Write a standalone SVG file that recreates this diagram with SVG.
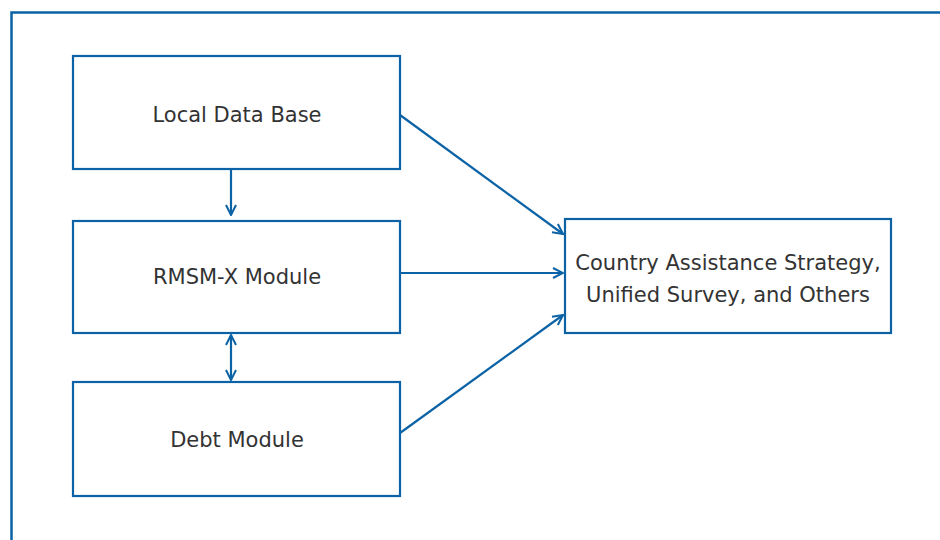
<svg xmlns="http://www.w3.org/2000/svg" width="940" height="540" viewBox="0 0 940 540">
<defs>
<style>
.box{fill:#fff;stroke:#0b63a6;stroke-width:2.2}
.frame{fill:none;stroke:#0b63a6;stroke-width:2.5}
.con{fill:none;stroke:#0b63a6;stroke-width:2.2}
.t{font-family:"DejaVu Sans","Liberation Sans",sans-serif;font-size:21px;fill:#333;text-anchor:middle}
</style>
<marker id="ah" viewBox="0 0 12 12" refX="11" refY="6" markerWidth="12" markerHeight="12" markerUnits="userSpaceOnUse" orient="auto-start-reverse">
<path d="M1,1 L11,6 L1,11" fill="none" stroke="#0b63a6" stroke-width="2"/>
</marker>
</defs>
<rect width="940" height="540" fill="#fff"/>
<path class="frame" d="M11.5,540 V12.5 H940"/>
<g id="local"><rect class="box" x="73" y="56" width="327" height="113"/><text class="t" x="237" y="122">Local Data Base</text></g>
<g id="rmsm"><rect class="box" x="73" y="221" width="327" height="112"/><text class="t" x="237" y="284">RMSM-X Module</text></g>
<g id="debt"><rect class="box" x="73" y="382" width="327" height="114"/><text class="t" x="237" y="447">Debt Module</text></g>
<g id="cas"><rect class="box" x="565" y="219" width="326" height="114"/><text class="t" x="728" y="270">Country Assistance Strategy,</text><text class="t" x="728" y="302">Unified Survey, and Others</text></g>
<g id="connectors">
<line class="con" x1="231" y1="169" x2="231" y2="215" marker-end="url(#ah)"/>
<line class="con" x1="231" y1="335" x2="231" y2="380" marker-start="url(#ah)" marker-end="url(#ah)"/>
<line class="con" x1="400" y1="115" x2="563" y2="234" marker-end="url(#ah)"/>
<line class="con" x1="400" y1="273" x2="563" y2="273" marker-end="url(#ah)"/>
<line class="con" x1="400" y1="433" x2="563" y2="315" marker-end="url(#ah)"/>
</g>
</svg>
